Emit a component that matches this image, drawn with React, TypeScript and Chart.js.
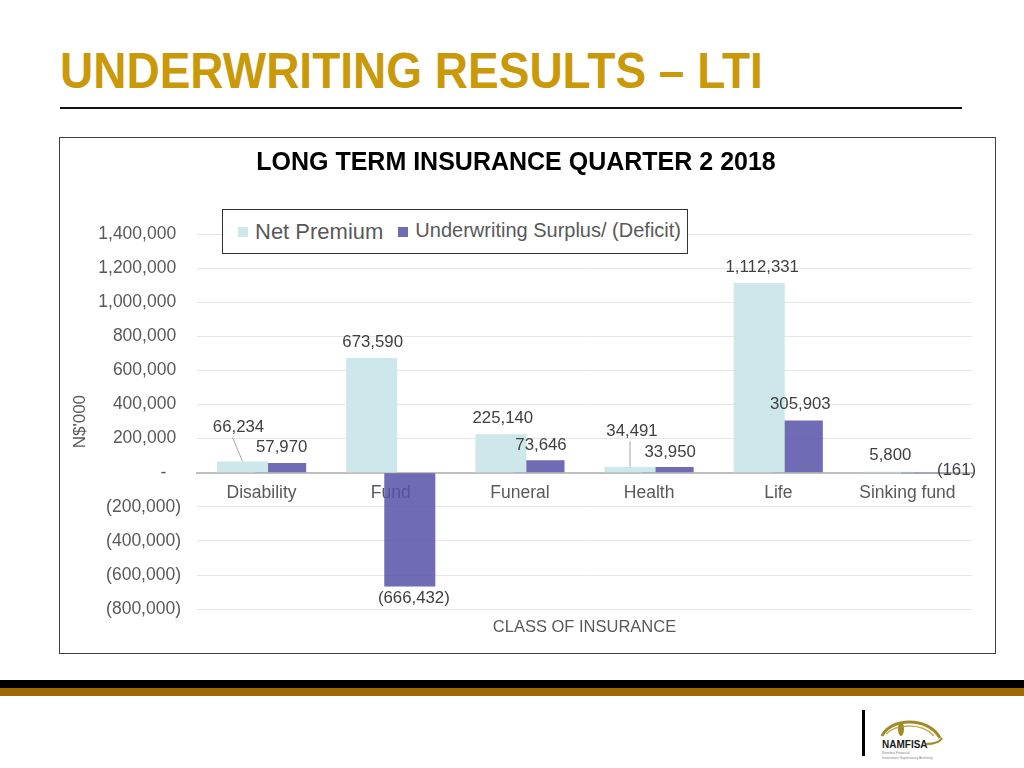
import React, { useEffect, useRef } from 'react';
import { Chart, registerables } from 'chart.js';

Chart.register(...registerables);

// ---- data ----
const categories = ['Disability', 'Fund', 'Funeral', 'Health', 'Life', 'Sinking fund'];
const netPremium = [66234, 673590, 225140, 34491, 1112331, 5800];
const surplus = [57970, -666432, 73646, 33950, 305903, -161];
const seriesNames = ['Net Premium', 'Underwriting Surplus/ (Deficit)'];
const yMin = -800000;
const yMax = 1400000;
const yStep = 200000;
const chartTitle = 'LONG TERM INSURANCE QUARTER 2 2018';
const xTitle = 'CLASS OF INSURANCE';
const yTitle = "N$'000";
const slideTitle = 'UNDERWRITING RESULTS \u2013 LTI';

// ---- style ----
const FONT = "'Liberation Sans', Arial, Helvetica, sans-serif";
const LIGHT = '#CDE7EA';
const PURPLE = 'rgba(86,81,168,0.85)';
const PURPLE_KEY = '#6E6AB5';
const TEXT_GRAY = '#595959';

// label placement (offset from bar end, px), leader line start offset
type LabelPos = { dx: number; dy: number; leader?: number };
const labelOffsets: LabelPos[][] = [
  [
    { dx: -4, dy: -34, leader: -6 },
    { dx: 1, dy: -16 },
    { dx: 2, dy: -16 },
    { dx: 2, dy: -36, leader: -2 },
    { dx: 3, dy: -16 },
    { dx: 2, dy: -16 },
  ],
  [
    { dx: 1, dy: -16 },
    { dx: 4, dy: 12 },
    { dx: 2, dy: -15 },
    { dx: 2, dy: -15 },
    { dx: 3, dy: -16 },
    { dx: 30, dy: -3 },
  ],
];

function withCommas(n: number): string {
  const s = String(Math.round(Math.abs(n)));
  return s.replace(/\B(?=(\d{3})+(?!\d))/g, ',');
}
function fmtNum(v: number): string {
  return v < 0 ? `(${withCommas(v)})` : withCommas(v);
}
function fmtTick(v: number): string {
  if (v === 0) return '-   ';
  return v < 0 ? `(${withCommas(v)})` : `${withCommas(v)} `;
}

const labelPlugin = {
  id: 'barLabels',
  afterDatasetsDraw(chart: any) {
    const ctx = chart.ctx as CanvasRenderingContext2D;
    ctx.save();
    ctx.font = `16.8px ${FONT}`;
    ctx.fillStyle = '#404040';
    ctx.textAlign = 'center';
    ctx.textBaseline = 'middle';
    chart.data.datasets.forEach((ds: any, di: number) => {
      const meta = chart.getDatasetMeta(di);
      meta.data.forEach((el: any, i: number) => {
        const v = ds.data[i] as number;
        const { x, y, base } = el.getProps(['x', 'y', 'base'], true);
        const end = v >= 0 ? Math.min(y, base) : Math.max(y, base);
        const o = labelOffsets[di][i];
        const lx = x + o.dx;
        const ly = end + o.dy;
        if (o.leader !== undefined) {
          ctx.save();
          ctx.strokeStyle = '#a6a6a6';
          ctx.lineWidth = 1;
          ctx.beginPath();
          ctx.moveTo(lx + o.leader, ly + 10);
          ctx.lineTo(x, end);
          ctx.stroke();
          ctx.restore();
        }
        ctx.fillText(fmtNum(v), lx, ly);
      });
    });
    ctx.restore();
  },
};

function BarChart() {
  const ref = useRef<HTMLCanvasElement | null>(null);
  useEffect(() => {
    if (!ref.current) return;
    const chart = new Chart(ref.current, {
      type: 'bar',
      data: {
        labels: categories,
        datasets: [
          {
            label: seriesNames[0],
            data: netPremium,
            backgroundColor: LIGHT,
            categoryPercentage: 0.59,
            barPercentage: 1.34,
          },
          {
            label: seriesNames[1],
            data: surplus,
            backgroundColor: PURPLE,
            categoryPercentage: 0.59,
            barPercentage: 1.34,
          },
        ],
      },
      options: {
        animation: false,
        responsive: false,
        devicePixelRatio: 1,
        layout: { padding: { left: 0, right: 23, top: 0, bottom: 12 } },
        plugins: {
          legend: { display: false },
          tooltip: { enabled: false },
          title: {
            display: true,
            text: chartTitle,
            color: '#000',
            font: { family: FONT, size: 25, weight: 'bold' },
            padding: { top: 10, bottom: 56 },
          },
        },
        scales: {
          x: {
            position: { y: 0 },
            grid: { display: false, drawTicks: false },
            border: { display: true, color: '#bfbfbf', width: 2 },
            ticks: {
              color: TEXT_GRAY,
              font: { family: FONT, size: 17.5 },
              padding: 10,
              maxRotation: 0,
              autoSkip: false,
            },
          },
          x2: {
            type: 'category',
            position: 'bottom',
            offset: true,
            grid: { display: false, drawTicks: false },
            border: { display: false },
            ticks: { display: false },
            title: {
              display: true,
              text: xTitle,
              color: TEXT_GRAY,
              font: { family: FONT, size: 16.5 },
              padding: { top: 8, bottom: 4 },
            },
          },
          y: {
            min: yMin,
            max: yMax,
            ticks: {
              stepSize: yStep,
              callback: (v: any) => fmtTick(Number(v)),
              color: TEXT_GRAY,
              font: { family: FONT, size: 17.5 },
              padding: 16,
            },
            grid: { color: '#e6e6e6', drawTicks: false },
            border: { display: false },
            title: {
              display: true,
              text: yTitle,
              color: TEXT_GRAY,
              font: { family: FONT, size: 17 },
              padding: { top: 10, bottom: 0 },
            },
            afterFit: (s: any) => {
              s.width = 137;
            },
          },
        },
      } as any,
      plugins: [labelPlugin],
    });
    return () => chart.destroy();
  }, []);
  return (
    <canvas
      ref={ref}
      width={935}
      height={515}
      style={{ position: 'absolute', left: 60, top: 138, width: 935, height: 515 }}
    />
  );
}

function Legend() {
  const sq = (c: string) => (
    <span style={{ display: 'inline-block', width: 10, height: 10, background: c }} />
  );
  return (
    <div
      style={{
        position: 'absolute',
        left: 222,
        top: 209,
        width: 464,
        height: 43,
        border: '1px solid #333',
        background: '#fff',
        display: 'flex',
        alignItems: 'center',
        fontFamily: FONT,
        color: TEXT_GRAY,
        whiteSpace: 'nowrap',
      }}
    >
      <span style={{ marginLeft: 15, display: 'flex', alignItems: 'center' }}>{sq(LIGHT)}</span>
      <span style={{ marginLeft: 7, fontSize: 22 }}>{seriesNames[0]}</span>
      <span style={{ marginLeft: 15, display: 'flex', alignItems: 'center' }}>{sq(PURPLE_KEY)}</span>
      <span style={{ marginLeft: 7, fontSize: 20, position: 'relative', top: -1 }}>{seriesNames[1]}</span>
    </div>
  );
}

function Logo() {
  return (
    <svg
      width={72}
      height={50}
      viewBox="0 0 72 50"
      style={{ position: 'absolute', left: 876, top: 714 }}
    >
      <path d="M6 22 C 14 4, 52 2, 64 24" fill="none" stroke="#a08a2a" strokeWidth={3} />
      <path d="M10 20 C 20 10, 46 8, 58 22" fill="none" stroke="#c8b04a" strokeWidth={1.5} />
      <ellipse cx={25} cy={15} rx={3} ry={7} fill="#a08a2a" />
      <text x={6} y={34} fontFamily={FONT} fontWeight="bold" fontSize={10} fill="#1a1a1a">
        NAMFISA
      </text>
      <path d="M50 30 C 58 30, 64 28, 66 24" fill="none" stroke="#a08a2a" strokeWidth={2} />
      <text x={6} y={40} fontFamily={FONT} fontSize={3.5} fill="#888">
        Namibia Financial
      </text>
      <text x={6} y={45} fontFamily={FONT} fontSize={3.5} fill="#888">
        Institutions Supervisory Authority
      </text>
    </svg>
  );
}

export default function App() {
  return (
    <div
      style={{
        position: 'absolute',
        left: 0,
        top: 0,
        width: 1024,
        height: 768,
        background: '#fff',
        overflow: 'hidden',
      }}
    >
      <div
        style={{
          position: 'absolute',
          left: 60,
          top: 45.5,
          fontFamily: FONT,
          fontWeight: 'bold',
          fontSize: 50,
          lineHeight: '50px',
          color: '#C9990A',
          whiteSpace: 'nowrap',
          transform: 'scaleX(0.92)',
          transformOrigin: 'left top',
        }}
      >
        {slideTitle}
      </div>
      <div style={{ position: 'absolute', left: 60, top: 107, width: 902, height: 2, background: '#111' }} />
      <div
        style={{
          position: 'absolute',
          left: 59,
          top: 137,
          width: 935,
          height: 515,
          border: '1px solid #404040',
        }}
      />
      <BarChart />
      <Legend />
      <div style={{ position: 'absolute', left: 0, top: 680, width: 1024, height: 8, background: '#000' }} />
      <div style={{ position: 'absolute', left: 0, top: 688, width: 1024, height: 8, background: '#9C6A00' }} />
      <div style={{ position: 'absolute', left: 862, top: 710, width: 3, height: 46, background: '#000' }} />
      <Logo />
    </div>
  );
}
